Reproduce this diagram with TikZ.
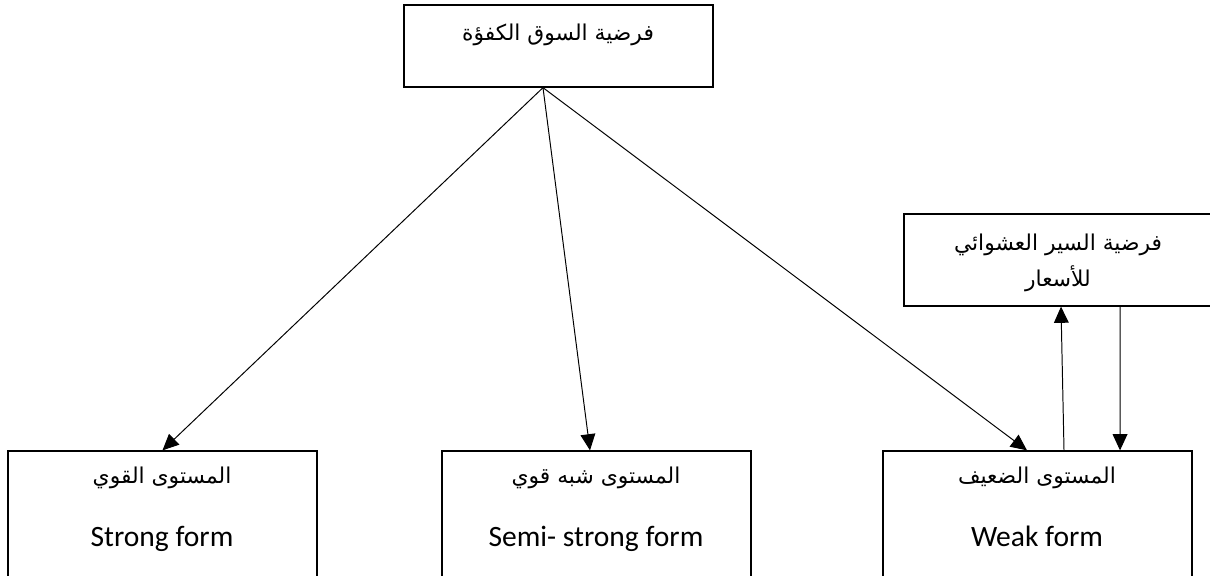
\documentclass[tikz,border=0pt]{standalone}
\usepackage{fontspec}
\setmainfont{Carlito}
\newfontfamily\arabicfont[Script=Arabic]{DejaVu Sans}
\TeXXeTstate=1
\usetikzlibrary{arrows.meta}
\tikzset{
  box/.style={draw, line width=0.9pt, inner sep=0pt},
  artext/.style={font=\arabicfont\fontsize{15.5}{26}\selectfont, anchor=base},
  entext/.style={font=\fontsize{21}{25}\selectfont, anchor=base},
}
\begin{document}
\begin{tikzpicture}[x=0.025cm, y=-0.025cm, >={Triangle[length=11.5pt,width=10.5pt]}, line width=0.7pt]
\useasboundingbox (0,0) rectangle (1210,575);
\clip (0,0) rectangle (1210,575);

\node[box, minimum width=7.725cm, minimum height=2.05cm](H) at (558.5,46){};
\node[box, minimum width=8.4cm, minimum height=2.3cm](RW) at (1072,260){};

\node[box, minimum width=7.725cm, minimum height=4.225cm](S) at (162.5,535.5){};
\node[box, minimum width=7.725cm, minimum height=4.225cm](M) at (596.5,535.5){};
\node[box, minimum width=7.725cm, minimum height=4.225cm](W) at (1037.5,535.5){};

\node[artext](Ht) at (558,40){\beginR فرضية السوق الكفؤة\endR};
\node[artext, anchor=center, align=center](RWt) at (1058,263){\beginR فرضية السير العشوائي\endR\\ \beginR للأسعار\endR};

\node[artext](St) at (162,483){\beginR المستوى القوي\endR};
\node[entext](Se) at (162,546){Strong form};
\node[artext](Mt) at (596,483){\beginR المستوى شبه قوي\endR};
\node[entext](Me) at (596,546){Semi- strong form};
\node[artext](Wt) at (1037,483){\beginR المستوى الضعيف\endR};
\node[entext](We) at (1037,546){Weak form};

\draw[->]([xshift=-0.3875cm]H.south)--(S.north);
\draw[->]([xshift=-0.3875cm]H.south)--([xshift=-0.1625cm]M.north);
\draw[->]([xshift=-0.3875cm]H.south)--([xshift=-0.2625cm]W.north);
\draw[->]([xshift=0.6625cm]W.north)--([xshift=-0.275cm]RW.south);
\draw[->]([xshift=1.2cm]RW.south)--([xshift=2.0625cm]W.north);
\end{tikzpicture}
\end{document}
